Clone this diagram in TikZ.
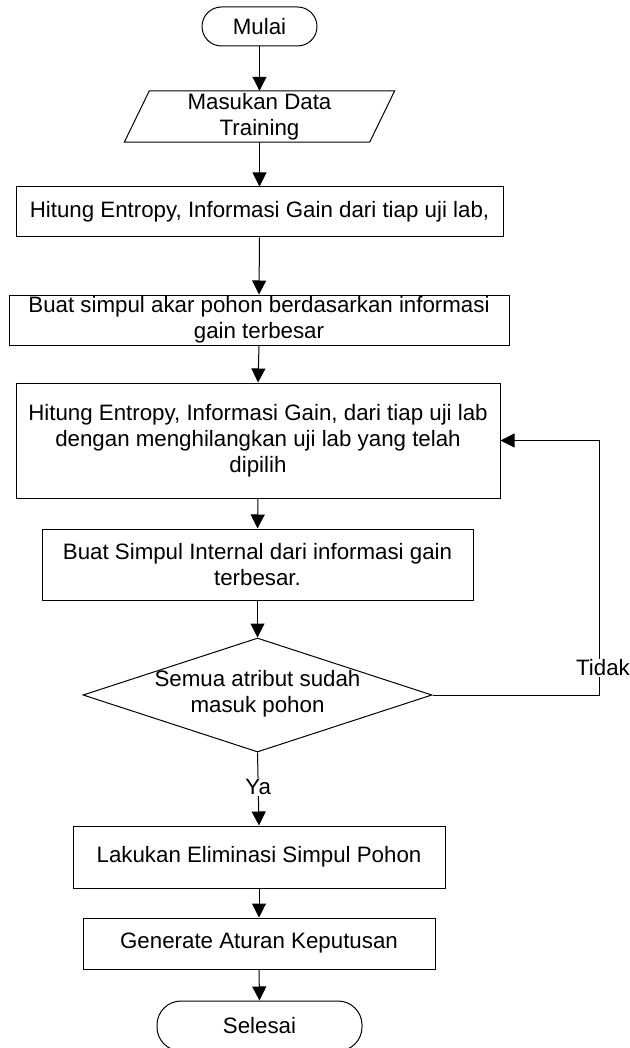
\documentclass[tikz,border=0pt]{standalone}
\usepackage{fontspec}
\setmainfont{Liberation Sans}
\usetikzlibrary{arrows.meta,shapes.geometric,calc}
\begin{document}
\begin{tikzpicture}[x=1pt,y=-1pt,
  every node/.style={font=\fontsize{22.3}{26}\selectfont, inner sep=0pt, align=center},
  procbox/.style={draw, line width=1pt, rectangle},
  term/.style={draw, line width=1pt, rectangle, rounded corners=19.5pt},
  arr/.style={line width=1pt, -{Triangle[length=14pt,width=14pt]}},
  lbl/.style={fill=white, inner sep=1pt}]
\useasboundingbox (0,0) rectangle (629,1048);
\node[term, minimum width=115pt, minimum height=39pt] (start) at (259.5,26.5) {Mulai};
\node[minimum width=245pt, minimum height=51pt] (in) at (259.5,116.5) {Masukan Data\\Training};
\draw[line width=1pt] ($(in.north west)+(12.5,0)$) -- ($(in.north east)+(12.5,0)$) -- ($(in.south east)+(-12.5,0)$) -- ($(in.south west)+(-12.5,0)$) -- cycle;
\node[procbox, minimum width=487pt, minimum height=50pt] (b1) at (259.5,212) {Hitung Entropy, Informasi Gain dari tiap uji lab,};
\node[procbox, minimum width=500pt, minimum height=50pt] (b2) at (259,320) {Buat simpul akar pohon berdasarkan informasi\\gain terbesar};
\node[procbox, minimum width=484pt, minimum height=115pt] (b3) at (258,440.5) {Hitung Entropy, Informasi Gain, dari tiap uji lab\\dengan menghilangkan uji lab yang telah\\dipilih};
\node[procbox, minimum width=431pt, minimum height=71pt] (b4) at (257.5,564.5) {Buat Simpul Internal dari informasi gain\\terbesar.};
\node[draw, line width=1pt, diamond, minimum width=349pt, minimum height=114pt] (d) at (257.5,695) {};
\node (dt) at (257.5,694) {Semua atribut sudah\\masuk pohon};
\node[procbox, minimum width=372pt, minimum height=62pt] (b5) at (259,857) {Lakukan Eliminasi Simpul Pohon};
\node[procbox, minimum width=352pt, minimum height=51pt] (b6) at (259,943.5) {Generate Aturan Keputusan};
\node[term, rounded corners=24pt, minimum width=205pt, minimum height=50pt] (end) at (259.5,1026) {Selesai};
\draw[arr] (start.south) -- (in.north);
\draw[arr] (in.south) -- (b1.north);
\draw[arr] (b1.south) -- (b2.north);
\draw[arr] (b2.south) -- (b3.north);
\draw[arr] (b3.south) -- (b4.north);
\draw[arr] (b4.south) -- (d.north);
\draw[arr] (d.south) -- node[lbl, pos=0.47] (ya) {Ya} (b5.north);
\draw[arr] (b5.south) -- (b6.north);
\draw[arr] (b6.south) -- (end.north);
\coordinate (lp) at (599,695);
\draw[arr] (d.east) -- (lp) |- (b3.east);
\node[lbl] (tidak) at (603,668) {Tidak};
\end{tikzpicture}
\end{document}
